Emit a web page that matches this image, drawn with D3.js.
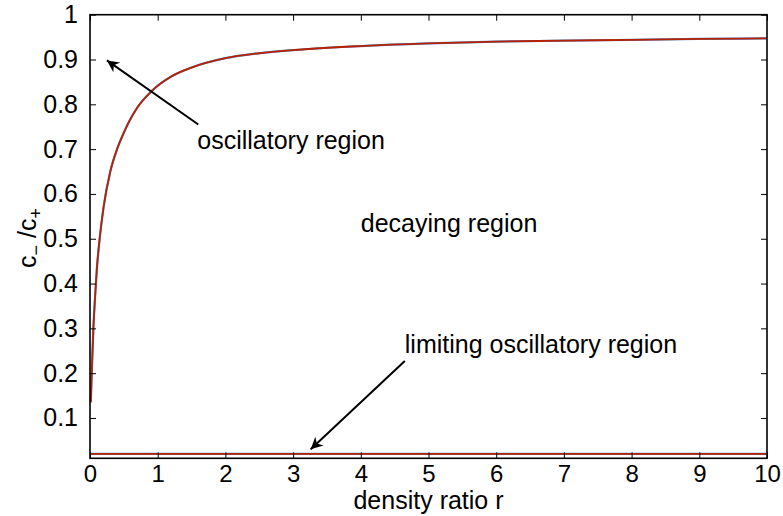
<!DOCTYPE html>
<html>
<head>
<meta charset="utf-8">
<script src="https://cdn.jsdelivr.net/npm/d3@7"></script>
<style>
  html, body { margin: 0; padding: 0; background: #fff; }
  svg text { font-family: "Liberation Sans", Arial, Helvetica, sans-serif; fill: #000; }
</style>
</head>
<body>
<svg id="chart" width="783" height="516"></svg>
<script>
// ---- data ----
const curveR = [0.012, 0.03, 0.05, 0.075, 0.1, 0.15, 0.2, 0.3, 0.4, 0.5, 0.7, 0.9, 1.2, 1.5, 2, 2.5, 3, 4, 5, 6, 7, 8, 9, 10];
const curveV = [0.135, 0.22, 0.30, 0.37, 0.43, 0.51, 0.57, 0.65, 0.70, 0.737, 0.793, 0.828, 0.862, 0.882, 0.903, 0.914, 0.921, 0.930, 0.936, 0.940, 0.942, 0.944, 0.946, 0.947];
const limitR = [0, 10];
const limitV = [0.02, 0.02];
const xTicks = [0, 1, 2, 3, 4, 5, 6, 7, 8, 9, 10];
const yTicks = [0.1, 0.2, 0.3, 0.4, 0.5, 0.6, 0.7, 0.8, 0.9, 1];
const yTickLabels = ["0.1", "0.2", "0.3", "0.4", "0.5", "0.6", "0.7", "0.8", "0.9", "1"];
const annotations = [
  { text: "oscillatory region", tx: 1.585, ty: 0.70, ax0: 1.6, ay0: 0.755, ax1: 0.25, ay1: 0.898 },
  { text: "decaying region", tx: 4.0, ty: 0.515 },
  { text: "limiting oscillatory region", tx: 4.65, ty: 0.245, ax0: 4.65, ay0: 0.227, ax1: 3.26, ay1: 0.030 }
];

// ---- layout ----
const svg = d3.select("#chart");
const L = 90, R = 767, T = 14.7, B = 458.3;
const x = d3.scaleLinear().domain([0, 10]).range([L, R]);
const y = d3.scaleLinear().domain([0.01, 1]).range([B, T]);
const fs = 25, tfs = 24;

svg.append("defs").append("marker")
  .attr("id", "ah").attr("viewBox", "0 0 10 10")
  .attr("refX", 10).attr("refY", 5)
  .attr("markerWidth", 16).attr("markerHeight", 12)
  .attr("markerUnits", "userSpaceOnUse")
  .attr("orient", "auto")
  .append("path").attr("d", "M0,0 L10,5 L0,10 L3,5 Z").attr("fill", "#000");

// curves
const line = d3.line().x(d => x(d[0])).y(d => y(d[1])).curve(d3.curveMonotoneX);
const curveData = curveR.map((r, i) => [r, curveV[i]]);
const limitData = limitR.map((r, i) => [r, limitV[i]]);
const g = svg.append("g");
[curveData, limitData].forEach(d => {
  g.append("path").attr("d", line(d)).attr("fill", "none").attr("stroke", "#4a8fcf").attr("stroke-width", 2.2);
  g.append("path").attr("d", line(d)).attr("fill", "none").attr("stroke", "#b82000").attr("stroke-width", 1.8);
});

// axes (ticks inside, all four sides)
const tl = 6;
svg.append("g").attr("transform", `translate(0,${B})`)
  .call(d3.axisBottom(x).tickValues(xTicks).tickSizeInner(-tl).tickSizeOuter(0).tickPadding(7).tickFormat(d3.format("d")))
  .call(a => { a.select(".domain").remove(); a.selectAll("text").attr("font-size", tfs).attr("font-family", "Liberation Sans, Arial, sans-serif").attr("fill", "#000"); a.selectAll("line").attr("stroke", "#000"); });
svg.append("g").attr("transform", `translate(0,${T})`)
  .call(d3.axisTop(x).tickValues(xTicks).tickSizeInner(-tl).tickSizeOuter(0).tickFormat(""))
  .call(a => { a.select(".domain").remove(); a.selectAll("line").attr("stroke", "#000"); });
svg.append("g").attr("transform", `translate(${L},0)`)
  .call(d3.axisLeft(y).tickValues(yTicks).tickSizeInner(-tl).tickSizeOuter(0).tickPadding(12).tickFormat((d, i) => yTickLabels[i]))
  .call(a => { a.select(".domain").remove(); a.selectAll("text").attr("font-size", tfs + 1).attr("font-family", "Liberation Sans, Arial, sans-serif").attr("fill", "#000"); a.selectAll("line").attr("stroke", "#000"); });
svg.append("g").attr("transform", `translate(${R},0)`)
  .call(d3.axisRight(y).tickValues(yTicks).tickSizeInner(-tl).tickSizeOuter(0).tickFormat(""))
  .call(a => { a.select(".domain").remove(); a.selectAll("line").attr("stroke", "#000"); });

svg.append("rect").attr("x", L).attr("y", T).attr("width", R - L).attr("height", B - T)
  .attr("fill", "none").attr("stroke", "#000").attr("stroke-width", 1.6);

// axis labels
svg.append("text").attr("x", (L + R) / 2).attr("y", 509).attr("text-anchor", "middle")
  .attr("font-size", fs).text("density ratio r");
const yl = svg.append("text").attr("transform", `translate(36,${238}) rotate(-90)`)
  .attr("text-anchor", "middle").attr("font-size", fs);
yl.append("tspan").text("c");
yl.append("tspan").attr("dy", 6).attr("font-size", 18).text("\u2212");
yl.append("tspan").attr("dy", -6).text(" /c");
yl.append("tspan").attr("dy", 6).attr("font-size", 18).text("+");

// annotations
annotations.forEach(a => {
  svg.append("text").attr("x", x(a.tx)).attr("y", y(a.ty)).attr("font-size", fs).text(a.text);
  if (a.ax0 !== undefined) {
    svg.append("line").attr("x1", x(a.ax0)).attr("y1", y(a.ay0)).attr("x2", x(a.ax1)).attr("y2", y(a.ay1))
      .attr("stroke", "#000").attr("stroke-width", 2).attr("marker-end", "url(#ah)");
  }
});
</script>
</body>
</html>
